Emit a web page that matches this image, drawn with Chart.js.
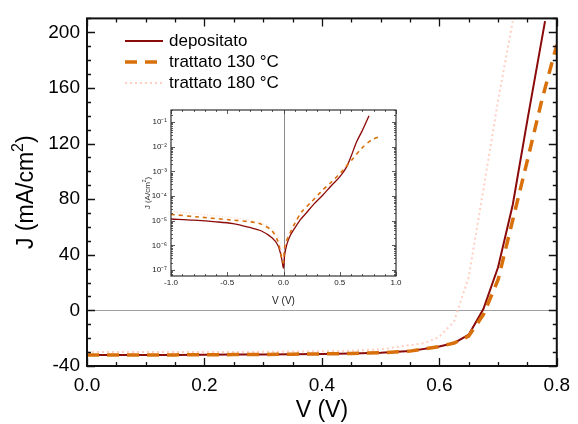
<!DOCTYPE html>
<html>
<head>
<meta charset="utf-8">
<script src="https://cdn.jsdelivr.net/npm/chart.js@4.4.0/dist/chart.umd.min.js"></script>
<style>
  html, body { margin: 0; padding: 0; background: #fff; }
  #wrap { position: relative; width: 578px; height: 424px; }
  #main { position: absolute; left: 0; top: 0; }
  #inset { position: absolute; left: 135px; top: 100px; background: #fff; }
</style>
</head>
<body>
<div id="wrap">
  <canvas id="main" width="578" height="424"></canvas>
  <canvas id="inset" width="270" height="208"></canvas>
</div>
<script>
// curve J-V sotto illuminazione (mA/cm2)
var nomi = ["depositato", "trattato 130 °C", "trattato 180 °C"];

var vDepositato = [0, 0.05, 0.1, 0.15, 0.2, 0.25, 0.3, 0.35, 0.4, 0.45, 0.5, 0.55, 0.6, 0.625, 0.65, 0.675, 0.7, 0.725, 0.75, 0.78];
var jDepositato = [-32, -32, -32, -32, -31.9, -31.8, -31.7, -31.5, -31.3, -31, -30.5, -29.3, -26, -23.5, -17.5, 1, 31, 76, 137, 208];

var v130 = [0, 0.05, 0.1, 0.15, 0.2, 0.25, 0.3, 0.35, 0.4, 0.45, 0.5, 0.55, 0.6, 0.625, 0.65, 0.675, 0.7, 0.725, 0.75, 0.775, 0.8];
var j130 = [-32, -32, -32, -32, -31.9, -31.8, -31.7, -31.5, -31.3, -31, -30.5, -29.3, -26, -23.5, -18.5, -3, 22, 65, 108, 152, 191];

var v180 = [0, 0.05, 0.1, 0.15, 0.2, 0.25, 0.3, 0.35, 0.4, 0.45, 0.5, 0.525, 0.55, 0.575, 0.6, 0.625, 0.65, 0.675, 0.7, 0.725];
var j180 = [-30, -30, -30, -30, -30, -30, -29.8, -29.6, -29.4, -29, -28, -26.5, -25, -23.5, -19, -8, 24, 87, 151, 208];

var xTicks = [0, 0.2, 0.4, 0.6, 0.8];
var yTicks = [-40, 0, 40, 80, 120, 160, 200];

// inserto: curve al buio, |J| in A/cm2
var vDepIns = [-1, -0.8, -0.6, -0.45, -0.3, -0.2, -0.1, -0.05, -0.02, 0, 0.01, 0.03, 0.06, 0.1, 0.15, 0.2, 0.27, 0.35, 0.42, 0.5, 0.56, 0.6, 0.65, 0.7, 0.76];
var jDepIns = [1.17e-5, 1.05e-5, 9e-6, 7.6e-6, 5.3e-6, 3.9e-6, 2e-6, 1e-6, 3.5e-7, 1.2e-7, 4e-7, 1.1e-6, 2.5e-6, 5e-6, 1.1e-5, 2e-5, 4.7e-5, 1.1e-4, 2.5e-4, 6e-4, 1.5e-3, 4e-3, 0.016, 0.045, 0.18];

var v130Ins = [-1, -0.75, -0.467, -0.227, -0.11, -0.049, -0.01, 0, 0.013, 0.058, 0.102, 0.162, 0.25, 0.34, 0.428, 0.517, 0.607, 0.695, 0.784, 0.873];
var j130Ins = [1.8e-5, 1.4e-5, 1.07e-5, 7.9e-6, 4.2e-6, 1.4e-6, 2.2e-7, 2e-7, 1e-6, 3.1e-6, 7.9e-6, 2.3e-5, 5.9e-5, 1.6e-4, 3.8e-4, 9.8e-4, 2.9e-3, 8.6e-3, 0.019, 0.028];

var v180Ins = [-1, -0.5, -0.25, -0.1, -0.04, -0.01, 0, 0.015, 0.05, 0.1, 0.2, 0.3, 0.4, 0.5, 0.6, 0.7, 0.75];
var j180Ins = [2.4e-5, 1.4e-5, 9.5e-6, 4.8e-6, 1.8e-6, 4e-7, 2.5e-7, 1.1e-6, 3.2e-6, 8.5e-6, 3.2e-5, 9e-5, 2.4e-4, 7e-4, 4.5e-3, 0.06, 0.16];

var xTicksIns = [-1, -0.5, 0, 0.5, 1];
var decadi = [-7, -6, -5, -4, -3, -2, -1];

var colDep = "#8b0a0a";
var col130 = "#d8700c";
var col180 = "#ffcfc2";

var FONT = "'Liberation Sans', Arial, sans-serif";
Chart.defaults.font.family = FONT;
Chart.defaults.color = "#000";

function punti(vs, js) {
    return vs.map(function (v, i) { return { x: v, y: js[i] }; });
}

function sup(n) {
    var m = { "-": "\u207B", "0": "\u2070", "1": "\u00B9", "2": "\u00B2", "3": "\u00B3", "4": "\u2074", "5": "\u2075", "6": "\u2076", "7": "\u2077", "8": "\u2078", "9": "\u2079" };
    return String(n).split("").map(function (c) { return m[c]; }).join("");
}

// titolo verticale con esponente vero (es. cm^2)
function titoloVerticale(ctx, x, y, pre, esp, post, size, colore) {
    var fN = size + "px " + FONT, fS = Math.round(size * 0.68) + "px " + FONT;
    ctx.save();
    ctx.translate(x, y);
    ctx.rotate(-Math.PI / 2);
    ctx.fillStyle = colore;
    ctx.textBaseline = "middle";
    ctx.font = fN;
    var w1 = ctx.measureText(pre).width, w3 = ctx.measureText(post).width;
    ctx.font = fS;
    var w2 = ctx.measureText(esp).width;
    var x0 = -(w1 + w2 + w3) / 2;
    ctx.font = fN;
    ctx.fillText(pre, x0, 0);
    ctx.font = fS;
    ctx.fillText(esp, x0 + w1, -size * 0.38);
    ctx.font = fN;
    ctx.fillText(post, x0 + w1 + w2, 0);
    ctx.restore();
}

// cornice e tacche verso l'interno
function disegnaTacche(chart, cfg) {
    var ctx = chart.ctx, a = chart.chartArea;
    var xs = chart.scales.x, ys = chart.scales.y;
    ctx.save();
    ctx.strokeStyle = cfg.colore;
    ctx.lineWidth = cfg.spessoreTacca;
    cfg.tx.forEach(function (t) {
        var px = Math.round(xs.getPixelForValue(t.v)) + 0.5;
        var l = t.major ? cfg.lMaj : cfg.lMin;
        ctx.beginPath();
        ctx.moveTo(px, a.bottom); ctx.lineTo(px, a.bottom - l);
        ctx.moveTo(px, a.top); ctx.lineTo(px, a.top + l);
        ctx.stroke();
    });
    cfg.ty.forEach(function (t) {
        var py = Math.round(ys.getPixelForValue(t.v)) + 0.5;
        var l = t.major ? cfg.lMaj : cfg.lMin;
        ctx.beginPath();
        ctx.moveTo(a.left, py); ctx.lineTo(a.left + l, py);
        ctx.moveTo(a.right, py); ctx.lineTo(a.right - l, py);
        ctx.stroke();
    });
    ctx.lineWidth = cfg.spessoreCornice;
    ctx.strokeRect(a.left, a.top, a.right - a.left, a.bottom - a.top);
    ctx.restore();
}

// tacche grafico principale
var txMain = [], tyMain = [];
for (var i = 0; i <= 16; i++) txMain.push({ v: i * 0.05, major: i % 4 === 0 });
for (var k = -4; k <= 21; k++) tyMain.push({ v: k * 10, major: k % 4 === 0 });

var principale = {
    id: "principale",
    beforeDatasetsDraw: function (chart) {
        var ctx = chart.ctx, a = chart.chartArea;
        var y0 = Math.round(chart.scales.y.getPixelForValue(0)) + 0.5;
        ctx.save();
        ctx.strokeStyle = "#a0a0a0";
        ctx.lineWidth = 1.2;
        ctx.beginPath();
        ctx.moveTo(a.left, y0); ctx.lineTo(a.right, y0);
        ctx.stroke();
        ctx.restore();
    },
    afterDraw: function (chart) {
        var a = chart.chartArea;
        disegnaTacche(chart, { colore: "#111", spessoreTacca: 1.3, spessoreCornice: 2, lMaj: 8, lMin: 4, tx: txMain, ty: tyMain });
        titoloVerticale(chart.ctx, 27, (a.top + a.bottom) / 2, "J (mA/cm", "2", ")", 23, "#000");
        // legenda
        var ctx = chart.ctx;
        ctx.save();
        ctx.font = "17px " + FONT;
        ctx.textBaseline = "middle";
        chart.data.datasets.forEach(function (ds, i) {
            var y = 41 + i * 21;
            ctx.strokeStyle = ds.borderColor;
            ctx.lineWidth = ds.borderWidth;
            ctx.setLineDash(ds.borderDash || []);
            ctx.beginPath();
            ctx.moveTo(125, y); ctx.lineTo(163, y);
            ctx.stroke();
            ctx.setLineDash([]);
            ctx.fillStyle = "#000";
            ctx.fillText(ds.label, 169, y);
        });
        ctx.restore();
    }
};

new Chart(document.getElementById("main"), {
    type: "line",
    data: {
        datasets: [
            { label: nomi[0], data: punti(vDepositato, jDepositato), borderColor: colDep, borderWidth: 2, pointRadius: 0, tension: 0, order: 1 },
            { label: nomi[1], data: punti(v130, j130), borderColor: col130, borderWidth: 3.5, borderDash: [12, 8], pointRadius: 0, tension: 0, order: 0 },
            { label: nomi[2], data: punti(v180, j180), borderColor: col180, borderWidth: 2, borderDash: [2, 3], pointRadius: 0, tension: 0, order: 2 }
        ]
    },
    options: {
        responsive: false,
        animation: false,
        devicePixelRatio: 1,
        layout: { padding: { left: 0, right: 14, top: 14, bottom: 0 } },
        plugins: { legend: { display: false }, tooltip: { enabled: false } },
        scales: {
            x: {
                type: "linear", min: 0, max: 0.8,
                afterBuildTicks: function (s) { s.ticks = xTicks.map(function (v) { return { value: v }; }); },
                afterFit: function (s) { s.height = 58; },
                ticks: { autoSkip: false, maxRotation: 0, padding: 8, font: { size: 19 }, callback: function (v) { return v.toFixed(1); } },
                grid: { display: false, drawTicks: false },
                border: { display: false },
                title: { display: true, text: "V (V)", font: { size: 23 }, padding: { top: 0, bottom: 0 } }
            },
            y: {
                type: "linear", min: -40, max: 210,
                afterBuildTicks: function (s) { s.ticks = yTicks.map(function (v) { return { value: v }; }); },
                afterFit: function (s) { s.width = 87; },
                ticks: { autoSkip: false, padding: 7, font: { size: 19 } },
                grid: { display: false, drawTicks: false },
                border: { display: false }
            }
        }
    },
    plugins: [principale]
});

// tacche inserto
var txIns = [], tyIns = [];
for (var j = -10; j <= 10; j++) txIns.push({ v: j / 10, major: j % 5 === 0 });
for (var e = -8; e <= 0; e++) {
    for (var m = 1; m <= 9; m++) tyIns.push({ v: m * Math.pow(10, e), major: m === 1 });
}

var inserto = {
    id: "inserto",
    beforeDatasetsDraw: function (chart) {
        var ctx = chart.ctx, a = chart.chartArea;
        var x0 = Math.round(chart.scales.x.getPixelForValue(0)) + 0.5;
        ctx.save();
        ctx.strokeStyle = "#8a8a8a";
        ctx.lineWidth = 1;
        ctx.beginPath();
        ctx.moveTo(x0, a.top); ctx.lineTo(x0, a.bottom);
        ctx.stroke();
        ctx.restore();
    },
    afterDraw: function (chart) {
        var ys = chart.scales.y, a = chart.chartArea;
        var ty = tyIns.filter(function (t) { return t.v >= ys.min && t.v <= ys.max; });
        disegnaTacche(chart, { colore: "#333", spessoreTacca: 0.8, spessoreCornice: 1.2, lMaj: 4, lMin: 2, tx: txIns, ty: ty });
        titoloVerticale(chart.ctx, 13, (a.top + a.bottom) / 2, "J (A/cm", "2", ")", 8, "#333");
    }
};

new Chart(document.getElementById("inset"), {
    type: "line",
    data: {
        datasets: [
            { label: nomi[0], data: punti(vDepIns, jDepIns), borderColor: colDep, borderWidth: 1.3, pointRadius: 0, tension: 0.3, order: 1 },
            { label: nomi[1], data: punti(v130Ins, j130Ins), borderColor: col130, borderWidth: 1.6, borderDash: [4, 4], pointRadius: 0, tension: 0.3, order: 0 },
            { label: nomi[2], data: punti(v180Ins, j180Ins), borderColor: col180, borderWidth: 1, borderDash: [1, 2], pointRadius: 0, tension: 0.3, order: 2 }
        ]
    },
    options: {
        responsive: false,
        animation: false,
        devicePixelRatio: 1,
        layout: { padding: { left: 0, right: 9, top: 10, bottom: 0 } },
        plugins: { legend: { display: false }, tooltip: { enabled: false } },
        scales: {
            x: {
                type: "linear", min: -1, max: 1,
                afterBuildTicks: function (s) { s.ticks = xTicksIns.map(function (v) { return { value: v }; }); },
                afterFit: function (s) { s.height = 32; },
                ticks: { autoSkip: false, maxRotation: 0, padding: 2, font: { size: 8 }, color: "#222", callback: function (v) { return v.toFixed(1); } },
                grid: { display: false, drawTicks: false },
                border: { display: false },
                title: { display: true, text: "V (V)", font: { size: 10 }, color: "#222", padding: { top: 0, bottom: 1 } }
            },
            y: {
                type: "logarithmic", min: 5.7e-8, max: 0.31,
                afterBuildTicks: function (s) { s.ticks = decadi.map(function (d) { return { value: Math.pow(10, d) }; }); },
                afterFit: function (s) { s.width = 36; },
                ticks: { autoSkip: false, padding: 4, font: { size: 8 }, color: "#222", callback: function (v) { return "10" + sup(Math.round(Math.log10(v))); } },
                grid: { display: false, drawTicks: false },
                border: { display: false }
            }
        }
    },
    plugins: [inserto]
});
</script>
</body>
</html>
